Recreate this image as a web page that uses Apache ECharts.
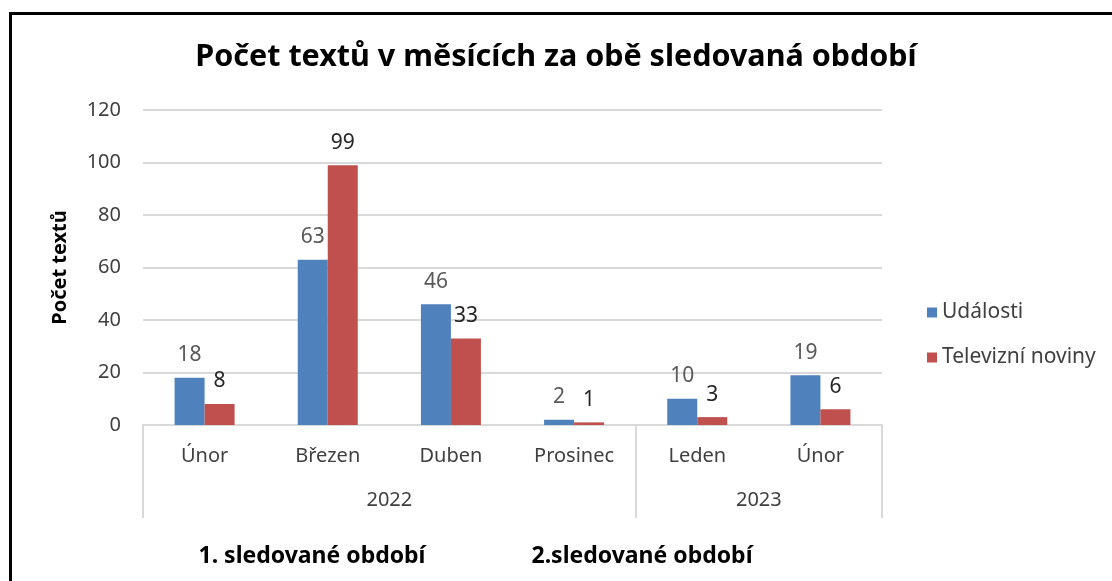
<!DOCTYPE html>
<html><head><meta charset="utf-8">
<script src="https://cdn.jsdelivr.net/npm/echarts@6/dist/echarts.min.js"></script>
<style>html,body{margin:0;padding:0;background:#fff;}#c{width:1112px;height:581px;}</style>
</head><body><div id="c"></div>
<script>
const titleText = 'Počet textů v měsících za obě sledovaná období';
const months = ['Únor', 'Březen', 'Duben', 'Prosinec', 'Leden', 'Únor'];
const yearGroups = ['2022', '2023'];
const yearCounts = [4, 2];
const periods = ['1. sledované období', '2.sledované období'];
const seriesNames = ['Události', 'Televizní noviny'];
const udalosti = [18, 63, 46, 2, 10, 19];
const noviny = [8, 99, 33, 1, 3, 6];
const yTicks = [0, 20, 40, 60, 80, 100, 120];
const yName = 'Počet textů';

const FONT = 'Noto Sans';
// group boundaries and centers in category units
const bounds = [0];
yearCounts.forEach(c => bounds.push(bounds[bounds.length - 1] + c));
const centers = yearGroups.map((_, i) => (bounds[i] + bounds[i + 1]) / 2);

const chart = echarts.init(document.getElementById('c'), null, {renderer: 'canvas'});
chart.setOption({
  animation: false,
  backgroundColor: '#fff',
  textStyle: {fontFamily: FONT},
  title: {
    text: titleText, left: 'center', top: 37,
    textStyle: {fontFamily: FONT, fontSize: 30.5, fontWeight: 'bold', color: '#000'}
  },
  legend: {
    orient: 'vertical', left: 922, top: 297, itemGap: 24,
    itemWidth: 10, itemHeight: 10, icon: 'rect',
    textStyle: {fontFamily: FONT, fontSize: 21, color: '#404040'},
    data: seriesNames
  },
  grid: {left: 143, right: 230, top: 110, bottom: 156, containLabel: false},
  xAxis: [{
    type: 'category', data: months,
    axisLine: {show: true, lineStyle: {color: '#d9d9d9', width: 2}},
    axisTick: {show: false},
    axisLabel: {fontFamily: FONT, fontSize: 20, color: '#404040', margin: 21, interval: 0}
  }, {
    type: 'value', min: 0, max: bounds[bounds.length - 1], position: 'bottom',
    axisLine: {show: false}, splitLine: {show: false},
    axisTick: {show: true, customValues: bounds, length: 93, lineStyle: {color: '#d9d9d9', width: 2}},
    axisLabel: {
      customValues: centers, margin: 65, fontFamily: FONT, fontSize: 20, color: '#404040',
      formatter: v => yearGroups[centers.indexOf(v)]
    }
  }],
  yAxis: {
    type: 'value', min: yTicks[0], max: yTicks[yTicks.length - 1], interval: yTicks[1] - yTicks[0],
    name: yName, nameLocation: 'middle', nameGap: 73, nameRotate: 90,
    nameTextStyle: {fontFamily: FONT, fontSize: 20, fontWeight: 'bold', color: '#000'},
    axisLine: {show: false}, axisTick: {show: false},
    axisLabel: {fontFamily: FONT, fontSize: 20, color: '#404040', margin: 22},
    splitLine: {lineStyle: {color: '#d9d9d9', width: 2}}
  },
  series: [{
    name: seriesNames[0], type: 'bar', data: udalosti, barWidth: 30, barGap: '0%',
    itemStyle: {color: '#4F81BD'},
    label: {show: true, position: 'top', distance: 12, fontFamily: FONT, fontSize: 21, color: '#595959'}
  }, {
    name: seriesNames[1], type: 'bar', data: noviny, barWidth: 30, barGap: '0%',
    itemStyle: {color: '#C0504D'},
    label: {show: true, position: 'top', distance: 12, fontFamily: FONT, fontSize: 21, color: '#262626'}
  }],
  graphic: [
    {type: 'rect', left: 8, top: 11, shape: {width: 1200, height: 700},
     style: {fill: 'none', stroke: '#000', lineWidth: 3}, z: 100},
    {type: 'text', x: 312, y: 556, style: {text: periods[0], fontFamily: FONT, fontSize: 23, fontWeight: 'bold',
      fill: '#000', textAlign: 'center', textVerticalAlign: 'middle'}},
    {type: 'text', x: 642, y: 556, style: {text: periods[1], fontFamily: FONT, fontSize: 23, fontWeight: 'bold',
      fill: '#000', textAlign: 'center', textVerticalAlign: 'middle'}}
  ]
});
</script></body></html>
